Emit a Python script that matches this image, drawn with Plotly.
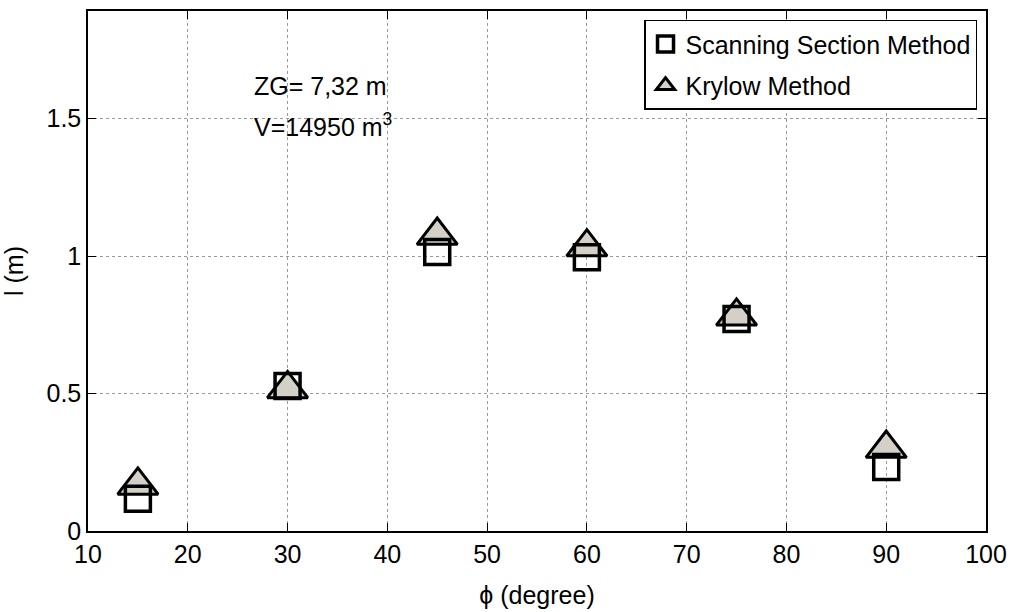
import plotly.graph_objects as go

# Data
phi = [15, 30, 45, 60, 75, 90]
scanning = [0.117, 0.528, 1.015, 0.996, 0.771, 0.233]
krylow = [0.166, 0.517, 1.075, 1.033, 0.781, 0.300]

x_ticks = [10, 20, 30, 40, 50, 60, 70, 80, 90, 100]
y_ticks = [0, 0.5, 1, 1.5]
y_ticklabels = ["0", "0.5", "1", "1.5"]

FONT = "Liberation Sans, Arial, sans-serif"
FS = 25

fig = go.Figure()

# Krylow triangles drawn first (square outlines sit on top in the reference)
fig.add_trace(go.Scatter(
    x=phi, y=krylow, mode="markers", name="Krylow Method",
    legendrank=2, legendgroup="k",
    marker=dict(symbol="triangle-up", size=35, color="#d4d0c8",
                line=dict(color="black", width=3)),
))
fig.add_trace(go.Scatter(
    x=phi, y=scanning, mode="markers", name="Scanning Section Method",
    legendrank=1, legendgroup="s",
    marker=dict(symbol="square-open", size=25, color="black",
                line=dict(color="black", width=3.5)),
))

axis_common = dict(
    showline=True, linecolor="black", linewidth=1.5, mirror="ticks",
    ticks="inside", ticklen=8, tickwidth=1, tickcolor="black",
    showgrid=True, gridcolor="#9a9a9a", griddash="dot", gridwidth=1,
    zeroline=False, automargin=False,
    tickfont=dict(family=FONT, size=FS, color="black"),
)

fig.update_xaxes(
    range=[10, 100.0001], tickvals=x_ticks,
    title=dict(text="ϕ (degree)", font=dict(family=FONT, size=FS, color="black"), standoff=20),
    **axis_common,
)
fig.update_yaxes(
    range=[0, 1.892], tickvals=y_ticks, ticktext=y_ticklabels,
    title=dict(text="l (m)", font=dict(family=FONT, size=FS, color="black"), standoff=16),
    **axis_common,
)

fig.add_annotation(x=26.4, y=1.62, xref="x", yref="y", text="ZG= 7,32 m",
                   showarrow=False, xanchor="left", yanchor="middle",
                   font=dict(family=FONT, size=FS, color="black"))
fig.add_annotation(x=26.4, y=1.477, xref="x", yref="y", text="V=14950 m<sup>3</sup>",
                   showarrow=False, xanchor="left", yanchor="middle",
                   font=dict(family=FONT, size=FS, color="black"))

fig.update_layout(
    width=1011, height=612,
    margin=dict(l=88, r=25, t=11, b=81, autoexpand=False),
    paper_bgcolor="white", plot_bgcolor="white",
    showlegend=True,
    legend=dict(
        x=0.99, y=0.983, xanchor="right", yanchor="top",
        bgcolor="white", bordercolor="black", borderwidth=1.5,
        font=dict(family=FONT, size=FS, color="black"),
        traceorder="grouped", tracegroupgap=6,
    ),
)

fig.write_html("out.html")
